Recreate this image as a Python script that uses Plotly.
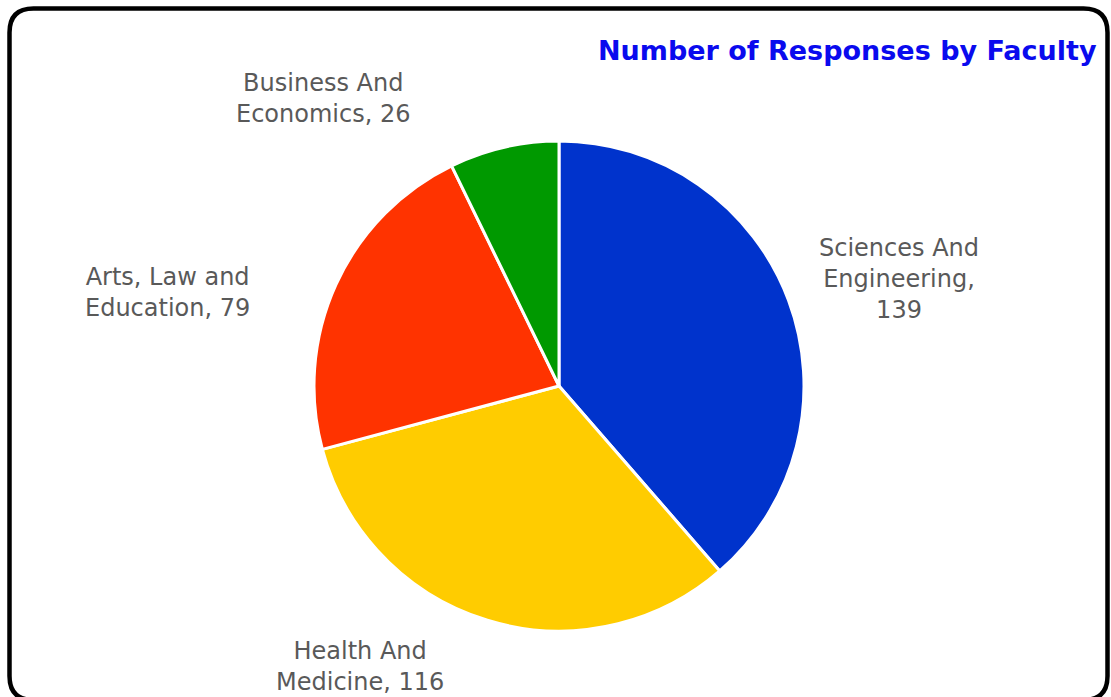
import plotly.graph_objects as go

# ---- data ----
faculties = ["Sciences And Engineering", "Health And Medicine",
             "Arts, Law and Education", "Business And Economics"]
responses = [139, 116, 79, 26]
label_lines = ["Sciences And<br>Engineering,<br>", "Health And<br>Medicine, ",
               "Arts, Law and<br>Education, ", "Business And<br>Economics, "]
colors = ["#0033CC", "#FFCC00", "#FF3300", "#009900"]
title_text = "Number of Responses by Faculty"

# ---- layout helpers (pixels) ----
W, H = 1111, 697
def px(x):
    return x / W
def py(y):
    return 1 - y / H

# pie box: center (559,386), radius 245
cx, cy, r = 559, 386, 245

fig = go.Figure()
fig.add_trace(go.Pie(
    labels=faculties,
    values=responses,
    sort=False,
    direction="clockwise",
    rotation=0,
    marker=dict(colors=colors, line=dict(color="white", width=3)),
    textinfo="none",
    hoverinfo="label+value",
    showlegend=False,
    domain=dict(x=[px(cx - r), px(cx + r)], y=[py(cy + r), py(cy - r)]),
))

# label positions (pixel centers)
label_pos = [(899, 279), (360, 666), (167, 292), (323, 98)]
for txt, v, (lx, ly) in zip(label_lines, responses, label_pos):
    fig.add_annotation(
        x=px(lx), y=py(ly), xref="paper", yref="paper",
        text=f"{txt}{v}", showarrow=False, align="center",
        xanchor="center", yanchor="middle",
        font=dict(family="DejaVu Sans", size=24, color="#595959"),
    )

fig.add_annotation(
    x=px(1099), y=py(50), xref="paper", yref="paper",
    text=f"<b>{title_text}</b>", showarrow=False,
    xanchor="right", yanchor="middle",
    font=dict(family="DejaVu Sans", size=27, color="#0A0AEE"),
)

# rounded border
L, T, R, B, rad = 9.5, 8.5, 1107.5, 700, 24
path = (f"M {px(L+rad)},{py(T)} L {px(R-rad)},{py(T)} "
        f"Q {px(R)},{py(T)} {px(R)},{py(T+rad)} "
        f"L {px(R)},{py(B-rad)} Q {px(R)},{py(B)} {px(R-rad)},{py(B)} "
        f"L {px(L+rad)},{py(B)} Q {px(L)},{py(B)} {px(L)},{py(B-rad)} "
        f"L {px(L)},{py(T+rad)} Q {px(L)},{py(T)} {px(L+rad)},{py(T)} Z")
fig.add_shape(type="path", path=path, xref="paper", yref="paper",
              line=dict(color="black", width=4.5), fillcolor="rgba(0,0,0,0)")

fig.update_layout(
    width=W, height=H,
    margin=dict(l=0, r=0, t=0, b=0),
    paper_bgcolor="white", plot_bgcolor="white",
)

fig.write_html("out.html",
               config={"displayModeBar": False},
               post_script="document.body.style.margin='0px';document.body.style.overflow='hidden';")
